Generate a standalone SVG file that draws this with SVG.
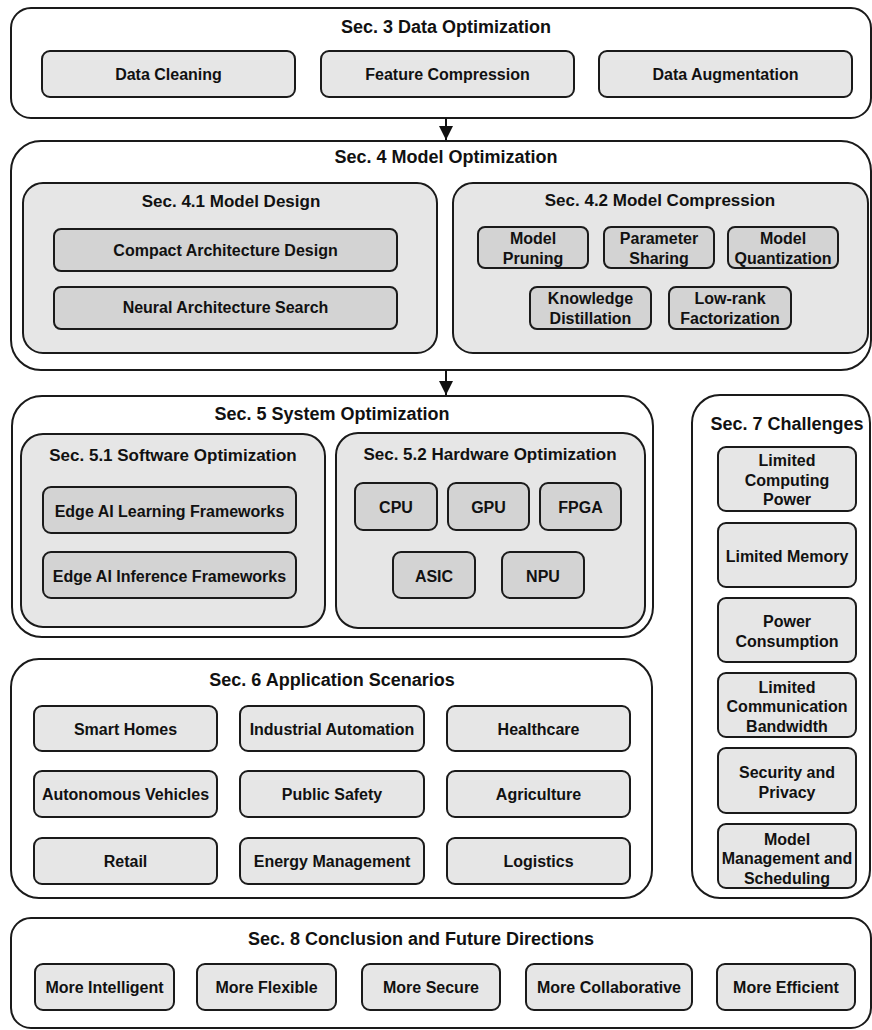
<svg xmlns="http://www.w3.org/2000/svg" width="872" height="1030" viewBox="0 0 872 1030">
<defs>
<style>
.sec{fill:#ffffff;stroke:#1a1a1a;stroke-width:2}
.grp{fill:#e6e6e6;stroke:#1a1a1a;stroke-width:2}
.nd{fill:#e6e6e6;stroke:#1a1a1a;stroke-width:2}
.nd2{fill:#d3d3d3;stroke:#1a1a1a;stroke-width:2}
text{font-family:"Liberation Sans",Arial,sans-serif;font-weight:bold;fill:#111;text-anchor:middle}
.t1{font-size:18px}
.t2{font-size:17px}
.t3{font-size:16px}
.conn{stroke:#111;stroke-width:2;fill:none}
</style>
<marker id="arr" viewBox="0 0 10 10" refX="10" refY="5" markerWidth="7" markerHeight="7" markerUnits="strokeWidth" orient="auto">
<path d="M0,0 L10,5 L0,10 z" fill="#111"/>
</marker>
</defs>

<g id="sec3">
<rect class="sec" x="11" y="8" width="860" height="110" rx="20"/>
<text class="t1" x="446" y="33">Sec. 3 Data Optimization</text>
</g>
<g id="data-cleaning"><rect class="nd" x="42" y="51" width="253" height="46" rx="8"/><text class="t3" x="168.5" y="80">Data Cleaning</text></g>
<g id="feature-compression"><rect class="nd" x="321" y="51" width="253" height="46" rx="8"/><text class="t3" x="447.5" y="80">Feature Compression</text></g>
<g id="data-augmentation"><rect class="nd" x="599" y="51" width="253" height="46" rx="8"/><text class="t3" x="725.5" y="80">Data Augmentation</text></g>

<g id="sec4">
<rect class="sec" x="11" y="141" width="860" height="229" rx="30"/>
<text class="t1" x="446" y="163">Sec. 4 Model Optimization</text>
</g>
<g id="sec41">
<rect class="grp" x="23" y="183" width="414" height="170" rx="20"/>
<text class="t2" x="231" y="207">Sec. 4.1 Model Design</text>
</g>
<g id="compact-arch"><rect class="nd2" x="54" y="229" width="343" height="42" rx="7"/><text class="t3" x="225.5" y="256">Compact Architecture Design</text></g>
<g id="nas"><rect class="nd2" x="54" y="287" width="343" height="42" rx="7"/><text class="t3" x="225.5" y="313">Neural Architecture Search</text></g>

<g id="sec42">
<rect class="grp" x="453" y="183" width="415" height="170" rx="20"/>
<text class="t2" x="660" y="205.5">Sec. 4.2 Model Compression</text>
</g>
<g id="pruning"><rect class="nd2" x="478" y="227" width="110" height="41" rx="7"/><text class="t3" x="533" y="244">Model</text><text class="t3" x="533" y="263.5">Pruning</text></g>
<g id="sharing"><rect class="nd2" x="604" y="227" width="110" height="41" rx="7"/><text class="t3" x="659" y="244">Parameter</text><text class="t3" x="659" y="263.5">Sharing</text></g>
<g id="quantization"><rect class="nd2" x="728" y="227" width="110" height="41" rx="7"/><text class="t3" x="783" y="244">Model</text><text class="t3" x="783" y="263.5">Quantization</text></g>
<g id="distillation"><rect class="nd2" x="530" y="287" width="121" height="42" rx="7"/><text class="t3" x="590.5" y="304">Knowledge</text><text class="t3" x="590.5" y="323.5">Distillation</text></g>
<g id="lowrank"><rect class="nd2" x="669" y="287" width="122" height="42" rx="7"/><text class="t3" x="730" y="304">Low-rank</text><text class="t3" x="730" y="323.5">Factorization</text></g>

<g id="sec5">
<rect class="sec" x="12" y="396" width="641" height="241" rx="30"/>
<text class="t1" x="332" y="420">Sec. 5 System Optimization</text>
</g>
<g id="sec51">
<rect class="grp" x="21" y="434" width="304" height="193" rx="22"/>
<text class="t2" x="173" y="461">Sec. 5.1 Software Optimization</text>
</g>
<g id="learning-fw"><rect class="nd2" x="43" y="487" width="253" height="46" rx="8"/><text class="t3" x="169.5" y="516.5">Edge AI Learning Frameworks</text></g>
<g id="inference-fw"><rect class="nd2" x="43" y="552" width="253" height="46" rx="8"/><text class="t3" x="169.5" y="581.5">Edge AI Inference Frameworks</text></g>

<g id="sec52">
<rect class="grp" x="336" y="433" width="309" height="195" rx="22"/>
<text class="t2" x="490" y="460">Sec. 5.2 Hardware Optimization</text>
</g>
<g id="cpu"><rect class="nd2" x="355" y="483" width="82" height="47" rx="8"/><text class="t3" x="396" y="513">CPU</text></g>
<g id="gpu"><rect class="nd2" x="448" y="483" width="81" height="47" rx="8"/><text class="t3" x="488.5" y="513">GPU</text></g>
<g id="fpga"><rect class="nd2" x="540" y="483" width="81" height="47" rx="8"/><text class="t3" x="580.5" y="513">FPGA</text></g>
<g id="asic"><rect class="nd2" x="393" y="552" width="82" height="46" rx="8"/><text class="t3" x="434" y="581.5">ASIC</text></g>
<g id="npu"><rect class="nd2" x="502" y="552" width="82" height="46" rx="8"/><text class="t3" x="543" y="581.5">NPU</text></g>

<g id="sec6">
<rect class="sec" x="11" y="659" width="641" height="239" rx="28"/>
<text class="t1" x="332" y="685.5">Sec. 6 Application Scenarios</text>
</g>
<g id="smart-homes"><rect class="nd" x="34" y="706" width="183" height="45" rx="8"/><text class="t3" x="125.5" y="735">Smart Homes</text></g>
<g id="industrial"><rect class="nd" x="240" y="706" width="184" height="45" rx="8"/><text class="t3" x="332" y="735">Industrial Automation</text></g>
<g id="healthcare"><rect class="nd" x="447" y="706" width="183" height="45" rx="8"/><text class="t3" x="538.5" y="735">Healthcare</text></g>
<g id="autonomous"><rect class="nd" x="34" y="771" width="183" height="46" rx="8"/><text class="t3" x="125.5" y="800">Autonomous Vehicles</text></g>
<g id="public-safety"><rect class="nd" x="240" y="771" width="184" height="46" rx="8"/><text class="t3" x="332" y="800">Public Safety</text></g>
<g id="agriculture"><rect class="nd" x="447" y="771" width="183" height="46" rx="8"/><text class="t3" x="538.5" y="800">Agriculture</text></g>
<g id="retail"><rect class="nd" x="34" y="838" width="183" height="46" rx="8"/><text class="t3" x="125.5" y="867">Retail</text></g>
<g id="energy"><rect class="nd" x="240" y="838" width="184" height="46" rx="8"/><text class="t3" x="332" y="867">Energy Management</text></g>
<g id="logistics"><rect class="nd" x="447" y="838" width="183" height="46" rx="8"/><text class="t3" x="538.5" y="867">Logistics</text></g>

<g id="sec7">
<rect class="sec" x="692" y="395" width="178" height="503" rx="28"/>
<text class="t1" x="787" y="430">Sec. 7 Challenges</text>
</g>
<g id="computing"><rect class="nd" x="718" y="447" width="138" height="64" rx="8"/><text class="t3" x="787" y="466">Limited</text><text class="t3" x="787" y="485.5">Computing</text><text class="t3" x="787" y="505">Power</text></g>
<g id="memory"><rect class="nd" x="718" y="523" width="138" height="64" rx="8"/><text class="t3" x="787" y="561.5">Limited Memory</text></g>
<g id="power"><rect class="nd" x="718" y="598" width="138" height="64" rx="8"/><text class="t3" x="787" y="627">Power</text><text class="t3" x="787" y="646.5">Consumption</text></g>
<g id="bandwidth"><rect class="nd" x="718" y="673" width="138" height="64" rx="8"/><text class="t3" x="787" y="692.5">Limited</text><text class="t3" x="787" y="712">Communication</text><text class="t3" x="787" y="731.5">Bandwidth</text></g>
<g id="security"><rect class="nd" x="718" y="748" width="138" height="65" rx="8"/><text class="t3" x="787" y="778">Security and</text><text class="t3" x="787" y="797.5">Privacy</text></g>
<g id="management"><rect class="nd" x="718" y="824" width="138" height="64" rx="8"/><text class="t3" x="787" y="844.5">Model</text><text class="t3" x="787" y="864">Management and</text><text class="t3" x="787" y="883.5">Scheduling</text></g>

<g id="sec8">
<rect class="sec" x="11" y="918" width="860" height="110" rx="20"/>
<text class="t1" x="421" y="944.5">Sec. 8 Conclusion and Future Directions</text>
</g>
<g id="intelligent"><rect class="nd" x="35" y="964" width="139" height="46" rx="8"/><text class="t3" x="104.5" y="993">More Intelligent</text></g>
<g id="flexible"><rect class="nd" x="197" y="964" width="139" height="46" rx="8"/><text class="t3" x="266.5" y="993">More Flexible</text></g>
<g id="secure"><rect class="nd" x="362" y="964" width="138" height="46" rx="8"/><text class="t3" x="431" y="993">More Secure</text></g>
<g id="collaborative"><rect class="nd" x="526" y="964" width="166" height="46" rx="8"/><text class="t3" x="609" y="993">More Collaborative</text></g>
<g id="efficient"><rect class="nd" x="717" y="964" width="138" height="46" rx="8"/><text class="t3" x="786" y="993">More Efficient</text></g>

<g id="connectors">
<line class="conn" x1="446" y1="118" x2="446" y2="140" marker-end="url(#arr)"/>
<line class="conn" x1="446" y1="370" x2="446" y2="395" marker-end="url(#arr)"/>
</g>
</svg>
